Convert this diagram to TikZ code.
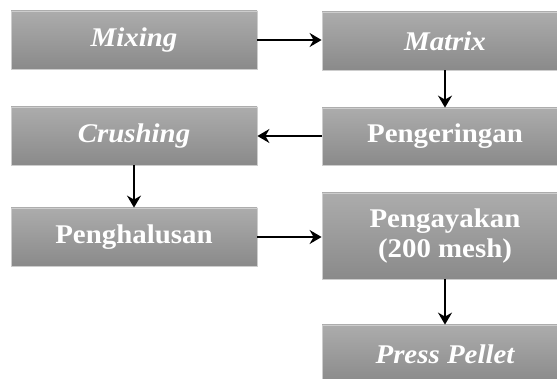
\documentclass[tikz,border=0pt]{standalone}
\usepackage{fontspec}
\setmainfont{Liberation Serif}
\usepackage{graphicx}
\usetikzlibrary{arrows.meta}
\definecolor{boxtop}{RGB}{172,172,172}
\definecolor{boxbot}{RGB}{138,138,138}
\definecolor{boxline}{RGB}{205,205,205}
\newcommand{\wide}[1]{\scalebox{1.07}[1]{#1}}
\tikzset{
  procbox/.style={rectangle, draw=boxline, line width=0.8pt, top color=boxtop, bottom color=boxbot,
    minimum width=246pt, minimum height=58pt, inner sep=0pt, text=white, align=center,
    font=\fontsize{27}{30}\selectfont\bfseries},
  flow/.style={line width=2pt, -{Stealth[length=12pt,width=14pt,inset=4pt]}}
}
\begin{document}
\begin{tikzpicture}[x=1pt,y=-1pt]
\clip (0,0) rectangle (557,379);
\fill[white] (0,0) rectangle (557,379);
\node[procbox] (mix) at (134,40) {\itshape\wide{Mixing}};
\node[procbox] (mat) at (445,41) {\itshape\wide{Matrix}};
\node[procbox] (cru) at (134,136) {\itshape\wide{Crushing}};
\node[procbox, minimum height=57pt] (ker) at (445,136.5) {\wide{Pengeringan}};
\node[procbox] (hal) at (134,237) {\wide{Penghalusan}};
\node[procbox, minimum height=86pt] (aya) at (445,236) {\wide{Pengayakan}\\\wide{(200 mesh)}};
\node[procbox] (pre) at (445,354) {\itshape\wide{Press Pellet}};
\draw[flow] (mix.east) -- (mix.east -| mat.west);
\draw[flow] (mat.south) -- (ker.north);
\draw[flow] (ker.west |- cru.east) -- (cru.east);
\draw[flow] (cru.south) -- (hal.north);
\draw[flow] (hal.east) -- (hal.east -| aya.west);
\draw[flow] (aya.south) -- (pre.north);
\end{tikzpicture}
\end{document}
